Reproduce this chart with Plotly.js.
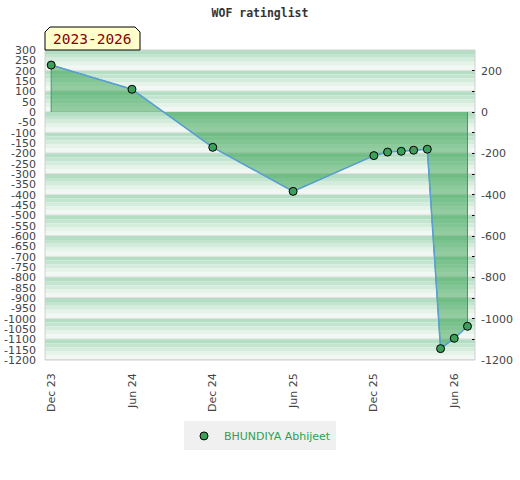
<!DOCTYPE html>
<html>
<head>
<meta charset="utf-8">
<script src="https://cdn.plot.ly/plotly-3.0.1.min.js"></script>
<style>html,body{margin:0;padding:0;background:#fff}#chart{width:520px;height:480px}</style>
</head>
<body>
<div id="chart"></div>
<script>
// ---- data ----
var playerName = 'BHUNDIYA Abhijeet';
var dates = ['2023-12-01','2024-06-01','2024-12-01','2025-06-01','2025-12-01','2026-01-01','2026-02-01','2026-03-01','2026-04-01','2026-05-01','2026-06-01','2026-07-01'];
var ratings = [227, 110, -171, -384, -211, -194, -190, -185, -180, -1145, -1095, -1037];

var xTickVals = ['2023-12-01','2024-06-01','2024-12-01','2025-06-01','2025-12-01','2026-06-01'];
var xTickText = ['Dec 23','Jun 24','Dec 24','Jun 25','Dec 25','Jun 26'];

var yLeftTickVals = [300,250,200,150,100,50,0,-50,-100,-150,-200,-250,-300,-350,-400,-450,-500,-550,-600,-650,-700,-750,-800,-850,-900,-950,-1000,-1050,-1100,-1150,-1200];
var yLeftTickText = ['300','250','200','150','100','50','0','-50','-100','-150','-200','-250','-300','-350','-400','-450','-500','-550','-600','-650','-700','-750','-800','-850','-900','-950','-1000','-1050','-1100','-1150','-1200'];

var yRightTickVals = [200,100,0,-100,-200,-300,-400,-500,-600,-700,-800,-900,-1000,-1100,-1200];
var yRightTickText = ['200','','0','','-200','','-400','','-600','','-800','','-1000','','-1200'];

var yRange = [-1200, 300];
var xRange = ['2023-11-17', '2026-07-18'];

// ---- background stripes (decoration) ----
var stripeColors = ['#b3dec4','#c3e5cf','#d4ecdc','#e5f3e9','#f1f8f3'];
var shapes = [];
for (var bandTop = yRange[1]; bandTop > yRange[0]; bandTop -= 100) {
  for (var k = 0; k < stripeColors.length; k++) {
    shapes.push({type:'rect', xref:'paper', yref:'y', x0:0, x1:1,
      y0: bandTop - k*19, y1: bandTop - (k+1)*19, fillcolor: stripeColors[k], line:{width:0}, layer:'below'});
  }
  shapes.push({type:'rect', xref:'paper', yref:'y', x0:0, x1:1,
    y0: bandTop - 95, y1: bandTop - 100, fillcolor:'#e4e0e0', line:{width:0}, layer:'below'});
}
// plot border
shapes.push({type:'rect', xref:'paper', yref:'paper', x0:0, x1:1, y0:0, y1:1,
  line:{color:'#d0d0d0', width:1}, layer:'above'});
// label box with chamfered top corners
shapes.push({type:'path', xref:'paper', yref:'paper', xsizemode:'pixel', ysizemode:'pixel',
  xanchor:0, yanchor:1, path:'M0,0 L0,18 L5,23 L90,23 L95,18 L95,0 Z',
  fillcolor:'#ffffcc', line:{color:'#000', width:1}, layer:'above'});

var polyX = [dates[0]].concat(dates, [dates[dates.length-1]]);
var polyY = [0].concat(ratings, [0]);

var traces = [
  {x: polyX, y: polyY, type:'scatter', mode:'lines', fill:'toself',
   fillcolor:'rgba(30,150,60,0.45)', line:{color:'#3a9e5c', width:1},
   hoverinfo:'skip', showlegend:false},
  {x: dates, y: ratings, type:'scatter', mode:'lines',
   line:{color:'#5b9fd8', width:1.5}, showlegend:false},
  {x: dates, y: ratings, type:'scatter', mode:'markers', name: playerName, yaxis:'y2',
   marker:{color:'#3aa05a', size:8, line:{color:'#000', width:1}}}
];

var tickFont = {family:'DejaVu Sans', size:11, color:'#444'};

var layout = {
  width:520, height:480,
  margin:{l:45, r:45, t:50, b:120, pad:0},
  paper_bgcolor:'#fff', plot_bgcolor:'#fff',
  title:{text:'WOF ratinglist', x:0.5, xref:'paper', xanchor:'center', y:0.973, yanchor:'middle',
    font:{family:'DejaVu Sans Mono', size:11.5, color:'#333', weight:'bold'}},
  xaxis:{type:'date', range:xRange, tickvals:xTickVals, ticktext:xTickText, tickangle:-90,
    ticks:'', showgrid:false, zeroline:false, showline:false, tickfont:tickFont, ticklabelstandoff:10, fixedrange:true},
  yaxis:{range:yRange, tickvals:yLeftTickVals, ticktext:yLeftTickText, ticks:'', showgrid:false,
    zeroline:false, showline:false, tickfont:tickFont, ticklabelstandoff:8, fixedrange:true},
  yaxis2:{range:yRange, overlaying:'y', side:'right', tickvals:yRightTickVals, ticktext:yRightTickText,
    ticks:'inside', ticklen:3, tickcolor:'#000', showgrid:false, zeroline:false, showline:false,
    tickfont:tickFont, ticklabelstandoff:5, fixedrange:true},
  shapes: shapes,
  annotations:[{text:'2023-2026', xref:'paper', yref:'paper', x:(92-45)/430, y:1+(50-39)/310,
    xanchor:'center', yanchor:'middle', showarrow:false,
    font:{family:'DejaVu Sans Mono', size:14.5, color:'#8b0000'}}],
  showlegend:true,
  legend:{orientation:'h', x:0.5, xanchor:'center', y:-0.245, yanchor:'middle',
    bgcolor:'#f0f0f0', font:{family:'DejaVu Sans', size:11, color:'#2fa050'}},
  hovermode:false
};

Plotly.newPlot('chart', traces, layout, {displayModeBar:false, staticPlot:true});
</script>
</body>
</html>
